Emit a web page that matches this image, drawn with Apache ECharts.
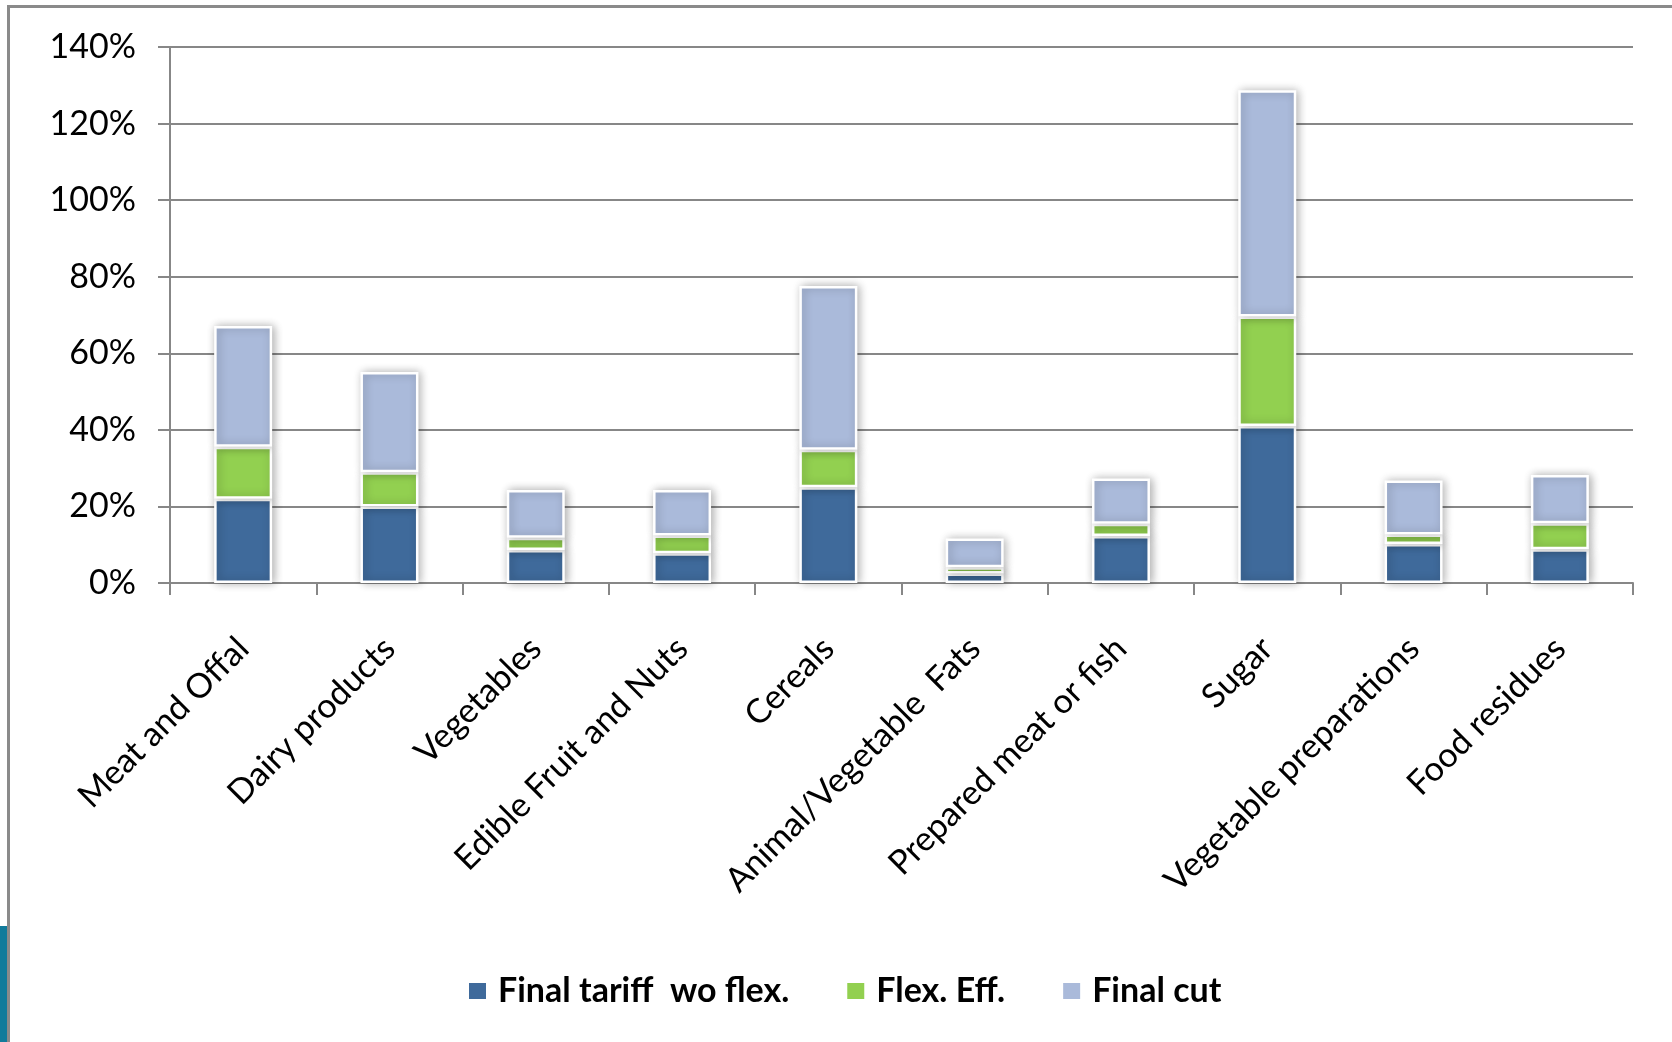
<!DOCTYPE html>
<html>
<head>
<meta charset="utf-8">
<style>
  html, body { margin: 0; padding: 0; background: #ffffff; }
  #chart { width: 1672px; height: 1042px; }
</style>
<script src="https://cdn.jsdelivr.net/npm/echarts@6/dist/echarts.min.js"></script>
</head>
<body>
<div id="chart"></div>
<script>
// Product groups on the horizontal axis
const categories = [
  'Meat and Offal', 'Dairy products', 'Vegetables', 'Edible Fruit and Nuts',
  'Cereals', 'Animal/Vegetable  Fats', 'Prepared meat or fish', 'Sugar',
  'Vegetable preparations', 'Food residues'
];

// Stacked components, in percent
const finalTariffWoFlex = [22.0, 20.0, 8.6, 7.8, 25.0, 2.5, 12.3, 41.0, 10.2, 8.8];
const flexEff           = [13.6, 8.9, 3.2, 4.6, 9.8, 1.6, 3.2, 28.6, 2.5, 6.8];
const finalCut          = [31.5, 26.2, 12.5, 11.9, 42.8, 7.5, 11.8, 59.1, 14.1, 12.6];

// Value axis ticks
const yTicks = { min: 0, max: 140, interval: 20 };

const seriesNames = ['Final tariff  wo flex.', 'Flex. Eff.', 'Final cut'];
const seriesColors = ['#3F6A9B', '#92D050', '#AABADA'];

const FONT = 'Lato, "Open Sans", sans-serif';
const GRID_GREY = '#878787';

const chart = echarts.init(document.getElementById('chart'), null, { renderer: 'canvas' });

function barSeries(name, data, color) {
  return {
    name: name,
    type: 'bar',
    stack: 'total',
    data: data,
    barWidth: 58,
    itemStyle: {
      color: color,
      borderColor: '#ffffff',
      borderWidth: 2.5,
      shadowColor: 'rgba(0,0,0,0.3)',
      shadowBlur: 9,
      shadowOffsetX: 2,
      shadowOffsetY: 0
    },
    emphasis: { disabled: true }
  };
}

chart.setOption({
  animation: false,
  backgroundColor: '#ffffff',
  color: seriesColors,
  graphic: [
    // slide frame around the chart
    {
      type: 'rect',
      shape: { x: 8.5, y: 6.5, width: 1700, height: 1100 },
      style: { fill: 'none', stroke: '#8a8a8a', lineWidth: 3 },
      z: -1
    },
    // teal corner of the slide background
    {
      type: 'rect',
      shape: { x: 0, y: 926, width: 7, height: 120 },
      style: { fill: '#117B9B' },
      z: -1
    }
  ],
  grid: { left: 170, right: 39, top: 47, bottom: 459, containLabel: false },
  legend: {
    data: seriesNames,
    left: 462,
    top: 969,
    icon: 'rect',
    itemWidth: 19,
    itemHeight: 18,
    itemGap: 56,
    textStyle: {
      fontFamily: FONT,
      fontSize: 34,
      fontWeight: 'bold',
      color: '#000000',
      padding: [0, 0, 0, 6]
    }
  },
  xAxis: {
    type: 'category',
    data: categories,
    axisLine: { lineStyle: { color: GRID_GREY, width: 2 } },
    axisTick: { show: true, length: 12, lineStyle: { color: GRID_GREY, width: 2 } },
    axisLabel: {
      rotate: 45,
      interval: 0,
      margin: 60,
      fontFamily: FONT,
      fontSize: 34,
      color: '#000000'
    }
  },
  yAxis: {
    type: 'value',
    min: yTicks.min,
    max: yTicks.max,
    interval: yTicks.interval,
    axisLine: { show: true, lineStyle: { color: GRID_GREY, width: 2 } },
    axisTick: { show: true, length: 12, lineStyle: { color: GRID_GREY, width: 2 } },
    splitLine: { show: true, lineStyle: { color: GRID_GREY, width: 2 } },
    axisLabel: {
      formatter: '{value}%',
      margin: 34,
      fontFamily: FONT,
      fontSize: 34,
      color: '#000000'
    }
  },
  series: [
    barSeries(seriesNames[0], finalTariffWoFlex, seriesColors[0]),
    barSeries(seriesNames[1], flexEff, seriesColors[1]),
    barSeries(seriesNames[2], finalCut, seriesColors[2])
  ]
});
</script>
</body>
</html>
